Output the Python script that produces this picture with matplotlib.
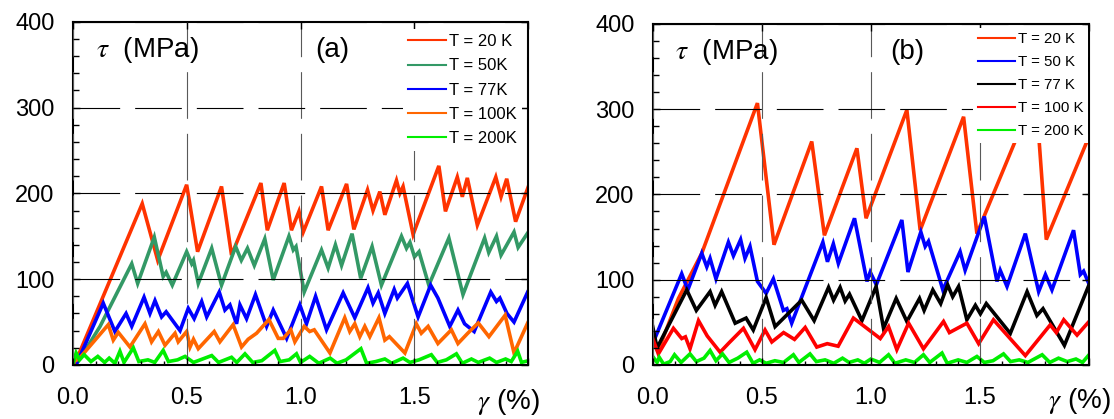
import matplotlib
matplotlib.use("Agg")
import matplotlib.pyplot as plt
from matplotlib.ticker import MultipleLocator
import matplotlib.transforms as mtrans

plt.rcParams['font.family'] = ['Liberation Sans', 'DejaVu Sans']
plt.rcParams['mathtext.fontset'] = 'stix'

# ---- panel (a) ----
a20_x = [0.0, 0.01, 0.305, 0.373, 0.50, 0.548, 0.653, 0.697, 0.826, 0.854, 0.928, 0.96, 0.993, 1.012,
         1.092, 1.121, 1.202, 1.234, 1.294, 1.318, 1.348, 1.37, 1.421, 1.436, 1.45, 1.494, 1.607, 1.636,
         1.688, 1.71, 1.732, 1.776, 1.857, 1.88, 1.905, 1.944, 2.0]
a20_y = [5, 2, 188, 122, 210, 132, 208, 128, 212, 157, 212, 157, 179, 155,
         208, 157, 211, 158, 204, 180, 202, 175, 215, 200, 208, 152, 232, 179,
         219, 196, 218, 163, 219, 196, 217, 167, 208]

a50_x = [0.0, 0.05, 0.12, 0.259, 0.285, 0.358, 0.397, 0.41, 0.437, 0.5, 0.522, 0.53, 0.551, 0.61, 0.653,
         0.715, 0.74, 0.767, 0.797, 0.843, 0.88, 0.949, 0.968, 0.98, 1.016, 1.092, 1.121, 1.153, 1.18,
         1.226, 1.264, 1.314, 1.355, 1.443, 1.465, 1.48, 1.5, 1.52, 1.563, 1.651, 1.713, 1.808, 1.826,
         1.86, 1.88, 1.937, 1.955, 2.0]
a50_y = [5, 15, 45, 118, 95, 149, 103, 108, 93, 132, 118, 122, 95, 136, 93,
         138, 122, 136, 116, 147, 99, 150, 134, 138, 85, 134, 113, 140, 116,
         153, 101, 138, 93, 150, 136, 143, 126, 132, 93, 148, 82, 148, 131,
         150, 128, 155, 137, 155]

a77_x = [0.0, 0.02, 0.134, 0.185, 0.234, 0.259, 0.313, 0.339, 0.361, 0.39, 0.41, 0.471, 0.507, 0.533,
         0.566, 0.588, 0.643, 0.668, 0.69, 0.719, 0.734, 0.763, 0.802, 0.851, 0.88, 0.939, 0.997, 1.026,
         1.066, 1.114, 1.187, 1.238, 1.296, 1.318, 1.341, 1.37, 1.411, 1.425, 1.469, 1.516, 1.571, 1.603,
         1.655, 1.691, 1.72, 1.762, 1.835, 1.86, 1.875, 1.906, 1.937, 1.997]
a77_y = [8, 3, 72, 39, 60, 45, 79, 60, 75, 56, 62, 40, 66, 54,
         74, 56, 85, 64, 70, 48, 70, 54, 82, 45, 64, 31, 70, 48,
         80, 41, 84, 55, 90, 72, 84, 60, 88, 78, 95, 56, 93, 78,
         45, 64, 48, 39, 85, 74, 78, 60, 50, 85]

a100_x = [0.0, 0.03, 0.156, 0.178, 0.2, 0.251, 0.317, 0.346, 0.376, 0.405, 0.449, 0.463, 0.5, 0.515,
          0.53, 0.551, 0.621, 0.646, 0.704, 0.741, 0.77, 0.807, 0.861, 0.902, 0.924, 0.957, 0.975, 1.016,
          1.04, 1.06, 1.129, 1.194, 1.216, 1.238, 1.26, 1.282, 1.304, 1.344, 1.37, 1.39, 1.458, 1.508,
          1.53, 1.56, 1.603, 1.662, 1.691, 1.734, 1.78, 1.827, 1.898, 1.937, 1.997]
a100_y = [3, 8, 47, 29, 38, 21, 48, 27, 39, 23, 37, 27, 39, 21,
          30, 19, 39, 27, 47, 21, 30, 37, 53, 31, 31, 41, 27, 45,
          39, 41, 14, 55, 39, 48, 33, 45, 33, 55, 29, 33, 14, 48,
          37, 45, 25, 41, 25, 37, 49, 33, 58, 14, 49]

a200_x = [0.0, 0.015, 0.03, 0.05, 0.08, 0.11, 0.14, 0.16, 0.185, 0.207, 0.225, 0.266, 0.29, 0.33, 0.36,
          0.397, 0.42, 0.46, 0.493, 0.53, 0.56, 0.61, 0.64, 0.697, 0.72, 0.756, 0.79, 0.83, 0.887, 0.91,
          0.95, 0.982, 1.0, 1.04, 1.08, 1.13, 1.16, 1.2, 1.265, 1.29, 1.33, 1.37, 1.4, 1.45, 1.48, 1.52,
          1.574, 1.6, 1.64, 1.684, 1.71, 1.75, 1.78, 1.83, 1.86, 1.9, 1.925, 1.953, 1.97, 2.0]
a200_y = [0, 14, 6, 12, 4, 10, 3, 8, 2, 16, 3, 20, 4, 6, 3,
          17, 4, 6, 10, 3, 6, 11, 3, 9, 3, 13, 3, 5, 17, 4,
          6, 13, 3, 10, 2, 8, 2, 6, 19, 2, 4, 7, 2, 8, 3, 6,
          12, 3, 6, 13, 2, 7, 3, 8, 3, 7, 4, 16, 3, 5]

# ---- panel (b) ----
b20_x = [0.0, 0.03, 0.118, 0.225, 0.48, 0.556, 0.729, 0.787, 0.936, 0.978, 1.165, 1.226, 1.425, 1.486,
         1.755, 1.804, 2.0]
b20_y = [30, 20, 78, 131, 307, 141, 262, 152, 254, 172, 299, 158, 291, 154,
         320, 147, 268]

b50_x = [0.0, 0.133, 0.161, 0.225, 0.248, 0.263, 0.29, 0.347, 0.37, 0.403, 0.423, 0.446, 0.48, 0.52,
         0.553, 0.599, 0.615, 0.637, 0.78, 0.801, 0.828, 0.851, 0.925, 0.982, 0.997, 1.025, 1.142, 1.17,
         1.229, 1.249, 1.264, 1.33, 1.409, 1.432, 1.52, 1.578, 1.593, 1.624, 1.708, 1.769, 1.8, 1.83,
         1.929, 1.96, 1.975, 1.998]
b50_y = [25, 107, 88, 131, 115, 125, 101, 144, 128, 147, 125, 139, 98, 84,
         101, 64, 66, 49, 144, 121, 142, 119, 172, 98, 109, 94, 170, 109,
         156, 139, 145, 88, 133, 111, 174, 98, 111, 92, 154, 86, 106, 88,
         158, 106, 110, 96]

b77_x = [0.0, 0.02, 0.156, 0.2, 0.263, 0.286, 0.316, 0.378, 0.428, 0.461, 0.52, 0.561, 0.62, 0.683, 0.74,
         0.806, 0.829, 0.859, 0.882, 0.902, 0.959, 1.024, 1.058, 1.116, 1.165, 1.223, 1.244, 1.284, 1.32,
         1.352, 1.375, 1.402, 1.44, 1.479, 1.502, 1.529, 1.639, 1.716, 1.761, 1.789, 1.887, 2.0]
b77_y = [45, 20, 88, 64, 86, 70, 86, 49, 55, 41, 79, 45, 60, 76, 52,
         91, 76, 91, 75, 83, 52, 92, 43, 78, 51, 78, 64, 88, 72,
         94, 80, 92, 53, 70, 60, 72, 37, 86, 58, 66, 23, 94]

b100_x = [0.0, 0.026, 0.095, 0.133, 0.15, 0.171, 0.21, 0.25, 0.309, 0.35, 0.416, 0.469, 0.515, 0.546,
          0.6, 0.65, 0.699, 0.752, 0.8, 0.85, 0.92, 0.951, 1.043, 1.081, 1.119, 1.173, 1.241, 1.333,
          1.36, 1.44, 1.494, 1.562, 1.6, 1.708, 1.822, 1.85, 1.884, 1.945, 2.0]
b100_y = [31, 13, 43, 31, 33, 19, 52, 34, 15, 26, 43, 18, 41, 27,
          38, 30, 44, 21, 25, 22, 55, 49, 31, 45, 18, 49, 19, 51,
          38, 49, 25, 53, 42, 11, 47, 38, 53, 35, 51]

b200_x = [0.0, 0.02, 0.03, 0.05, 0.08, 0.1, 0.13, 0.171, 0.2, 0.235, 0.263, 0.29, 0.32, 0.35, 0.39,
          0.431, 0.46, 0.49, 0.52, 0.56, 0.6, 0.645, 0.67, 0.721, 0.75, 0.79, 0.83, 0.87, 0.9, 0.94,
          0.97, 1.0, 1.04, 1.081, 1.11, 1.16, 1.2, 1.241, 1.27, 1.326, 1.35, 1.4, 1.44, 1.486, 1.52,
          1.56, 1.608, 1.64, 1.68, 1.72, 1.785, 1.82, 1.86, 1.9, 1.94, 1.97, 2.0]
b200_y = [10, 3, 9, 1, 4, 12, 3, 13, 4, 8, 17, 5, 13, 3, 8,
          15, 2, 6, 2, 5, 3, 12, 3, 13, 4, 6, 2, 8, 3, 6,
          2, 7, 3, 12, 2, 6, 3, 12, 3, 14, 2, 6, 3, 10, 3,
          5, 13, 4, 6, 3, 12, 3, 8, 4, 7, 3, 12]

labels_a = ['T = 20 K', 'T = 50K', 'T = 77K', 'T = 100K', 'T = 200K']
colors_a = ['#ff3300', '#339966', '#0000ff', '#ff6600', '#00ee00']
labels_b = ['T = 20 K', 'T = 50 K', 'T = 77 K', 'T = 100 K', 'T = 200 K']
colors_b = ['#ff3300', '#0000ff', '#000000', '#ff0000', '#00ee00']

series_a = [(a20_x, a20_y), (a50_x, a50_y), (a77_x, a77_y), (a100_x, a100_y), (a200_x, a200_y)]
series_b = [(b20_x, b20_y), (b50_x, b50_y), (b77_x, b77_y), (b100_x, b100_y), (b200_x, b200_y)]


def draw(ax, series, labels, colors, tag, leg_fs, leg_anchor, leg_ls, leg_hl, gx):
    for (x, y), lab, c in zip(series, labels, colors):
        ax.plot(x, y, color=c, lw=2.6, label=lab, solid_joinstyle='miter')
    ax.set_xlim(0, 2.0)
    ax.set_ylim(0, 400)
    ax.set_xticks([0, 0.5, 1.0, 1.5, 2.0])
    ax.set_xticklabels(['0.0', '0.5', '1.0', '1.5', ''])
    ax.set_yticks([0, 100, 200, 300, 400])
    ax.xaxis.set_minor_locator(MultipleLocator(0.1))
    ax.yaxis.set_minor_locator(MultipleLocator(20))
    ax.set_axisbelow(False)
    dash = (0, (42, 13.5))
    ax.grid(axis='y', color='k', lw=0.8, linestyle=dash)
    ax.grid(axis='x', color='0.35', lw=0.8, linestyle=dash)
    ax.tick_params(which='both', direction='in', top=True, right=True, labelsize=17)
    ax.tick_params(which='major', length=5, width=1)
    ax.tick_params(which='minor', length=4, width=1)
    ax.tick_params(axis='y', which='minor', right=False)
    ax.tick_params(axis='x', which='minor', top=False, length=3)
    ax.tick_params(axis='y', pad=13)
    ax.tick_params(axis='x', pad=16)
    for s in ax.spines.values():
        s.set_linewidth(1.5)
    leg = ax.legend(loc='upper right', bbox_to_anchor=leg_anchor, fontsize=leg_fs,
                    frameon=True, facecolor='white', edgecolor='none', framealpha=1,
                    fancybox=False, borderpad=0.3, handlelength=leg_hl, handletextpad=0.15,
                    labelspacing=leg_ls, borderaxespad=0)
    for h in leg.get_lines():
        h.set_linewidth(1.5)
    ax.text(0.05, 0.918, r'$\tau$  (MPa)', transform=ax.transAxes, fontsize=20,
            ha='left', va='center')
    ax.text(tag[1], 0.918, tag[0], transform=ax.transAxes, fontsize=20,
            ha='center', va='center')
    trans = mtrans.blended_transform_factory(ax.transData, ax.transAxes)
    ax.text(gx, -0.107, r'$\gamma$ (%)', transform=trans, fontsize=20,
            ha='left', va='center', clip_on=False)


fig = plt.figure(figsize=(11.14, 4.19), dpi=100)
ax1 = fig.add_axes([0.0653, 0.1289, 0.409, 0.8193])
ax2 = fig.add_axes([0.5859, 0.1289, 0.3917, 0.8143])

draw(ax1, series_a, labels_a, colors_a, ('(a)', 0.569), 12, (0.985, 0.978), 0.55, 2.3, 1.775)
draw(ax2, series_b, labels_b, colors_b, ('(b)', 0.583), 10.8, (0.997, 0.988), 0.6, 2.5, 1.811)

fig.savefig('out.png', dpi=100)
